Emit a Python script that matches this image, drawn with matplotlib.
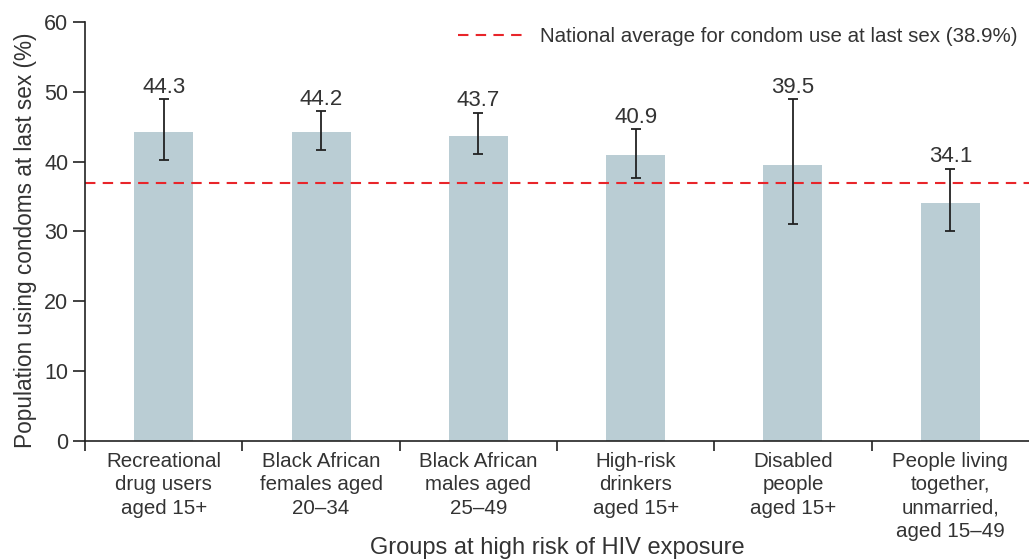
import matplotlib
matplotlib.use("Agg")
import matplotlib.pyplot as plt
from matplotlib.ticker import FixedLocator, NullFormatter

# Data
groups = [
    "Recreational\ndrug users\naged 15+",
    "Black African\nfemales aged\n20\u201334",
    "Black African\nmales aged\n25\u201349",
    "High-risk\ndrinkers\naged 15+",
    "Disabled\npeople\naged 15+",
    "People living\ntogether,\nunmarried,\naged 15\u201349",
]
values = [44.3, 44.2, 43.7, 40.9, 39.5, 34.1]
ci_low = [40.2, 41.6, 41.1, 37.6, 31.0, 30.0]
ci_high = [48.9, 47.2, 47.0, 44.6, 48.9, 39.0]
national_avg = 36.9
legend_label = "National average for condom use at last sex (38.9%)"

plt.rcParams['font.family'] = ['Liberation Sans', 'DejaVu Sans']
text_color = '#333333'

fig = plt.figure(figsize=(10.29, 5.6), dpi=100)
ax = fig.add_axes([85 / 1029, 0.2129, 944 / 1029, 0.7478])

x = list(range(len(groups)))
yerr = [[v - lo for v, lo in zip(values, ci_low)],
        [hi - v for v, hi in zip(values, ci_high)]]

ax.bar(x, values, width=0.375, color='#bacdd4', zorder=1)
ax.errorbar(x, values, yerr=yerr, fmt='none', ecolor='#222222',
            elinewidth=1.3, capsize=3.5, capthick=1.3, zorder=3)

# value labels just above the upper error bar
for xi, v, hi in zip(x, values, ci_high):
    ax.text(xi, hi + 0.9, f"{v:.1f}", ha='center', va='baseline',
            fontsize=16, color=text_color)

line, = ax.plot([-0.5, 5.5], [national_avg, national_avg], color='#e8252a',
                linestyle=(0, (5, 3.5)), linewidth=1.5, zorder=2)

ax.set_xlim(-0.5, 5.5)
ax.set_ylim(0, 60)
ax.set_yticks([0, 10, 20, 30, 40, 50, 60])

# group labels at bar centres, separator ticks between groups
ax.set_xticks(x)
ax.set_xticklabels(groups, fontsize=14.8, color=text_color, linespacing=1.3)
ax.tick_params(axis='x', which='major', length=0, pad=8)
ax.xaxis.set_minor_locator(FixedLocator([-0.5, 0.5, 1.5, 2.5, 3.5, 4.5]))
ax.xaxis.set_minor_formatter(NullFormatter())
ax.tick_params(axis='x', which='minor', length=7, width=1.2, color='#222222')
ax.tick_params(axis='y', length=9, width=1.2, color='#222222',
               labelsize=15.5, labelcolor=text_color, pad=3)

for side in ['top', 'right']:
    ax.spines[side].set_visible(False)
for side in ['left', 'bottom']:
    ax.spines[side].set_linewidth(1.2)
    ax.spines[side].set_color('#222222')

ax.set_ylabel("Population using condoms at last sex (%)", fontsize=16.3,
              color=text_color)
ax.yaxis.set_label_coords(-0.051, 0.478)
fig.text(557 / 1029, 12 / 560, "Groups at high risk of HIV exposure",
         fontsize=17, color=text_color, ha='center', va='center')

leg = ax.legend([line], [legend_label], loc='upper right', frameon=False,
                fontsize=14.8, handlelength=3.2, handletextpad=0.8,
                bbox_to_anchor=(0.997, 1.008), borderaxespad=0)
for t in leg.get_texts():
    t.set_color(text_color)

fig.savefig("out.png", dpi=100)
